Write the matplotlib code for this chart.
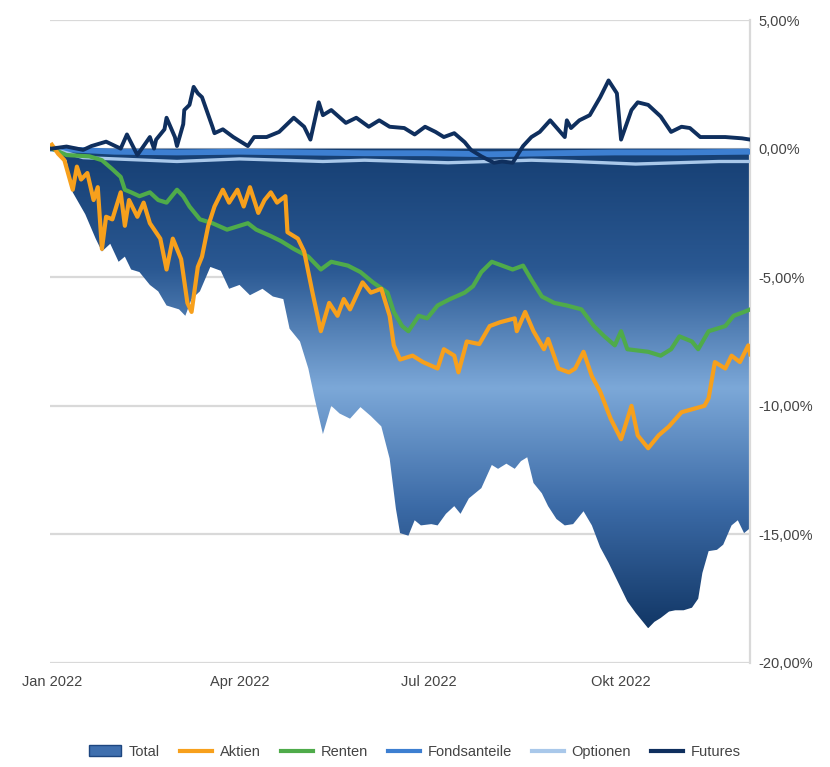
import numpy as np
import pandas as pd
import matplotlib
matplotlib.use("Agg")
import matplotlib.pyplot as plt
import matplotlib.dates as mdates
from matplotlib.colors import LinearSegmentedColormap
from matplotlib.patches import Patch
from matplotlib.lines import Line2D

plt.rcParams['font.family'] = ['Liberation Sans', 'DejaVu Sans']

start = pd.Timestamp('2022-01-01')

# Total (area), days since 1 Jan 2022 and performance in %
total_days = [0, 3, 7, 10, 16, 21, 24, 28, 32, 35, 38, 42, 47, 51, 55, 61, 64, 67, 71, 76,
              81, 85, 90, 95, 101, 106, 111, 114, 119, 123, 126, 130, 134, 138, 143, 148, 153,
              158, 162, 165, 167, 171, 174, 177, 182, 185, 189, 193, 196, 200, 206, 211, 214,
              218, 222, 225, 228, 231, 235, 238, 242, 246, 250, 255, 259, 263, 267, 270, 273,
              276, 280, 284, 286, 289, 292, 296, 299, 303, 307, 310, 312, 315, 319, 322, 326,
              329, 332, 335]
total_vals = [0, -0.1, -0.45, -1.7, -2.55, -3.5, -4.0, -3.7, -4.4, -4.2, -4.7, -4.8, -5.3, -5.55,
              -6.1, -6.25, -6.5, -5.85, -5.55, -4.6, -4.75, -5.45, -5.3, -5.7, -5.45, -5.75, -5.85,
              -7.0, -7.5, -8.55, -9.7, -11.1, -10.0, -10.3, -10.5, -10.05, -10.4, -10.8, -12.05,
              -14.0, -14.95, -15.05, -14.45, -14.65, -14.6, -14.65, -14.2, -13.9, -14.2, -13.6,
              -13.2, -12.3, -12.45, -12.25, -12.45, -12.15, -12.0, -13.0, -13.4, -13.9, -14.4,
              -14.65, -14.6, -14.1, -14.65, -15.5, -16.1, -16.6, -17.1, -17.6, -18.05, -18.45,
              -18.65, -18.4, -18.25, -18.0, -17.95, -17.95, -17.85, -17.5, -16.5, -15.65, -15.6,
              -15.4, -14.65, -14.45, -14.95, -14.75]

aktien_days = [0, 3, 6, 10, 12, 14, 17, 20, 22, 24, 26, 29, 33, 35, 37, 41, 44, 47, 52, 55,
               58, 62, 65, 67, 70, 72, 75, 78, 82, 85, 89, 92, 95, 99, 102, 105, 108, 112, 113,
               118, 121, 125, 129, 133, 137, 140, 143, 149, 153, 158, 162, 164, 167, 173, 178,
               185, 188, 193, 195, 199, 205, 210, 215, 222, 223, 227, 231, 236, 238, 243, 248,
               251, 255, 259, 263, 268, 273, 278, 281, 286, 291, 296, 302, 313, 315, 318, 323,
               326, 330, 334, 335]
aktien_vals = [0.15, -0.2, -0.45, -1.6, -0.7, -1.2, -0.95, -2.0, -1.5, -3.9, -2.65, -2.75, -1.7,
               -3.0, -2.0, -2.65, -2.1, -2.9, -3.5, -4.7, -3.5, -4.3, -6.0, -6.35, -4.6, -4.2,
               -3.0, -2.25, -1.6, -2.1, -1.6, -2.25, -1.5, -2.5, -2.0, -1.7, -2.1, -1.85, -3.25,
               -3.5, -4.0, -5.6, -7.1, -6.0, -6.5, -5.85, -6.25, -5.2, -5.6, -5.45, -6.5, -7.65,
               -8.2, -8.05, -8.3, -8.55, -7.8, -8.05, -8.7, -7.5, -7.6, -6.9, -6.75, -6.6, -7.1,
               -6.35, -7.1, -7.8, -7.4, -8.55, -8.7, -8.55, -7.9, -8.85, -9.45, -10.5, -11.3,
               -10.0, -11.15, -11.65, -11.15, -10.8, -10.25, -10.0, -9.7, -8.3, -8.55, -8.05,
               -8.3, -7.65, -8.0]

renten_days = [0, 7, 18, 24, 29, 33, 35, 38, 42, 47, 51, 55, 60, 63, 66, 71, 77, 84, 90, 94,
               98, 105, 110, 116, 123, 129, 134, 142, 148, 154, 161, 164, 168, 171, 176, 180,
               185, 191, 198, 202, 206, 211, 216, 221, 226, 230, 235, 241, 247, 254, 260, 265,
               270, 273, 276, 286, 292, 297, 301, 307, 310, 315, 323, 327, 332, 335]
renten_vals = [0, -0.25, -0.3, -0.45, -0.8, -1.1, -1.6, -1.7, -1.85, -1.7, -2.0, -2.1, -1.6,
               -1.85, -2.25, -2.75, -2.9, -3.15, -3.0, -2.9, -3.15, -3.4, -3.6, -3.9, -4.2, -4.7,
               -4.4, -4.55, -4.8, -5.2, -5.6, -6.35, -6.9, -7.1, -6.5, -6.6, -6.1, -5.85, -5.6,
               -5.35, -4.8, -4.4, -4.55, -4.7, -4.55, -5.1, -5.75, -6.0, -6.1, -6.25, -6.9, -7.3,
               -7.65, -7.1, -7.8, -7.9, -8.05, -7.8, -7.3, -7.5, -7.8, -7.1, -6.9, -6.5, -6.35,
               -6.25]

fonds_days = [0, 30, 60, 90, 120, 150, 180, 210, 240, 270, 300, 335]
fonds_vals = [0, -0.12, -0.15, -0.12, -0.15, -0.18, -0.18, -0.22, -0.18, -0.15, -0.15, -0.12]

optionen_days = [0, 15, 30, 45, 60, 75, 90, 110, 130, 150, 170, 190, 210, 230, 250, 265, 280,
                 300, 320, 335]
optionen_vals = [0, -0.35, -0.4, -0.45, -0.5, -0.45, -0.4, -0.45, -0.5, -0.45, -0.5, -0.55,
                 -0.5, -0.45, -0.5, -0.55, -0.6, -0.55, -0.5, -0.5]

futures_days = [0, 7, 15, 19, 26, 33, 36, 41, 47, 49, 50, 54, 55, 59, 60, 63, 63.5, 66, 68, 70,
                72, 77, 78, 82, 87, 94, 97, 103, 109, 116, 121, 124, 128, 130, 134, 141, 146,
                152, 157, 162, 169, 174, 179, 184, 188, 193, 198, 201, 206, 212, 216, 221, 226,
                230, 234, 239, 246, 247, 249, 253, 258, 263, 267, 271, 273, 278, 281, 286, 292,
                297, 302, 306, 311, 315, 323, 331, 335]
futures_vals = [0, 0.08, -0.05, 0.1, 0.27, 0.0, 0.55, -0.25, 0.45, 0.0, 0.35, 0.75, 1.2, 0.45,
                0.1, 0.95, 1.5, 1.7, 2.4, 2.15, 2.0, 0.85, 0.6, 0.75, 0.45, 0.1, 0.45, 0.45,
                0.65, 1.2, 0.85, 0.35, 1.8, 1.3, 1.5, 1.0, 1.2, 0.85, 1.1, 0.85, 0.8, 0.55,
                0.85, 0.65, 0.45, 0.6, 0.25, -0.05, -0.3, -0.55, -0.5, -0.55, 0.1, 0.45, 0.65,
                1.1, 0.45, 1.1, 0.8, 1.1, 1.3, 2.0, 2.65, 2.15, 0.35, 1.5, 1.8, 1.7, 1.25,
                0.65, 0.85, 0.8, 0.45, 0.45, 0.45, 0.4, 0.35]

tick_dates = ['2022-01-01', '2022-04-01', '2022-07-01', '2022-10-01']
tick_labels = ['Jan 2022', 'Apr 2022', 'Jul 2022', 'Okt 2022']
y_ticks = [5, 0, -5, -10, -15, -20]


def to_dates(days):
    return start + pd.to_timedelta(np.array(days, dtype=float), unit='D')


fig = plt.figure(figsize=(8.3, 7.67), dpi=100)
ax = fig.add_axes([0.060, 0.1356, 0.844, 0.8383])

x_min = start - pd.Timedelta(days=1)
x_max = start + pd.Timedelta(days=335)

# grid
for v in y_ticks:
    ax.axhline(v, color='#d9d9d9', lw=1.6, zorder=0)

# total area with vertical gradient (dark - light - dark)
td = to_dates(total_days)
poly = ax.fill_between(td, 0, total_vals, color='none', lw=0, zorder=1)
cmap = LinearSegmentedColormap.from_list('tot', ['#163f73', '#2a5892', '#7ca8d8', '#3b6aa6', '#123766'])
grad = np.linspace(0, 1, 256).reshape(-1, 1)
ymin_tot = min(total_vals)
img = ax.imshow(grad, cmap=cmap, aspect='auto', origin='upper',
                extent=[mdates.date2num(x_min), mdates.date2num(x_max), ymin_tot, 0],
                zorder=1, interpolation='bilinear')
img.set_clip_path(poly.get_paths()[0], transform=ax.transData)
ax.set_xlim(x_min, x_max)
ax.set_ylim(-20, 5)

ax.plot(to_dates(fonds_days), fonds_vals, color='#3d7fd1', lw=4.2, zorder=3)
ax.plot(to_dates(optionen_days), optionen_vals, color='#a9c8ea', lw=2.4, zorder=3)
ax.plot(to_dates(renten_days), renten_vals, color='#4fab4a', lw=3.0, zorder=4,
        solid_joinstyle='round')
ax.plot(to_dates(aktien_days), aktien_vals, color='#f7a01c', lw=3.0, zorder=5,
        solid_joinstyle='round')
ax.plot(to_dates(futures_days), futures_vals, color='#0f2f5e', lw=2.8, zorder=6,
        solid_joinstyle='round')

# axes styling
for s in ['left', 'top', 'bottom']:
    ax.spines[s].set_visible(False)
ax.spines['right'].set_color('#d9d9d9')
ax.spines['right'].set_linewidth(1.6)

ax.yaxis.tick_right()
ax.set_yticks(y_ticks)
ax.set_yticklabels([f'{v:.2f}'.replace('.', ',') + '%' for v in y_ticks])
ax.set_xticks(pd.to_datetime(tick_dates))
ax.set_xticklabels(tick_labels)
ax.tick_params(axis='both', length=0, labelsize=10.5, colors='#444444')
ax.tick_params(axis='y', pad=6)
ax.tick_params(axis='x', pad=9)

handles = [
    Patch(facecolor='#3f6fae', edgecolor='#1d4680'),
    Line2D([], [], color='#f7a01c', lw=3),
    Line2D([], [], color='#4fab4a', lw=3),
    Line2D([], [], color='#3d7fd1', lw=3),
    Line2D([], [], color='#a9c8ea', lw=3),
    Line2D([], [], color='#0f2f5e', lw=3),
]
labels = ['Total', 'Aktien', 'Renten', 'Fondsanteile', 'Optionen', 'Futures']
fig.legend(handles, labels, loc='center', bbox_to_anchor=(0.5, 0.02), ncol=6, frameon=False,
           fontsize=10.5, handlelength=2.2, columnspacing=1.4, handletextpad=0.5,
           labelcolor='#444444')

fig.savefig('out.png', dpi=100)
